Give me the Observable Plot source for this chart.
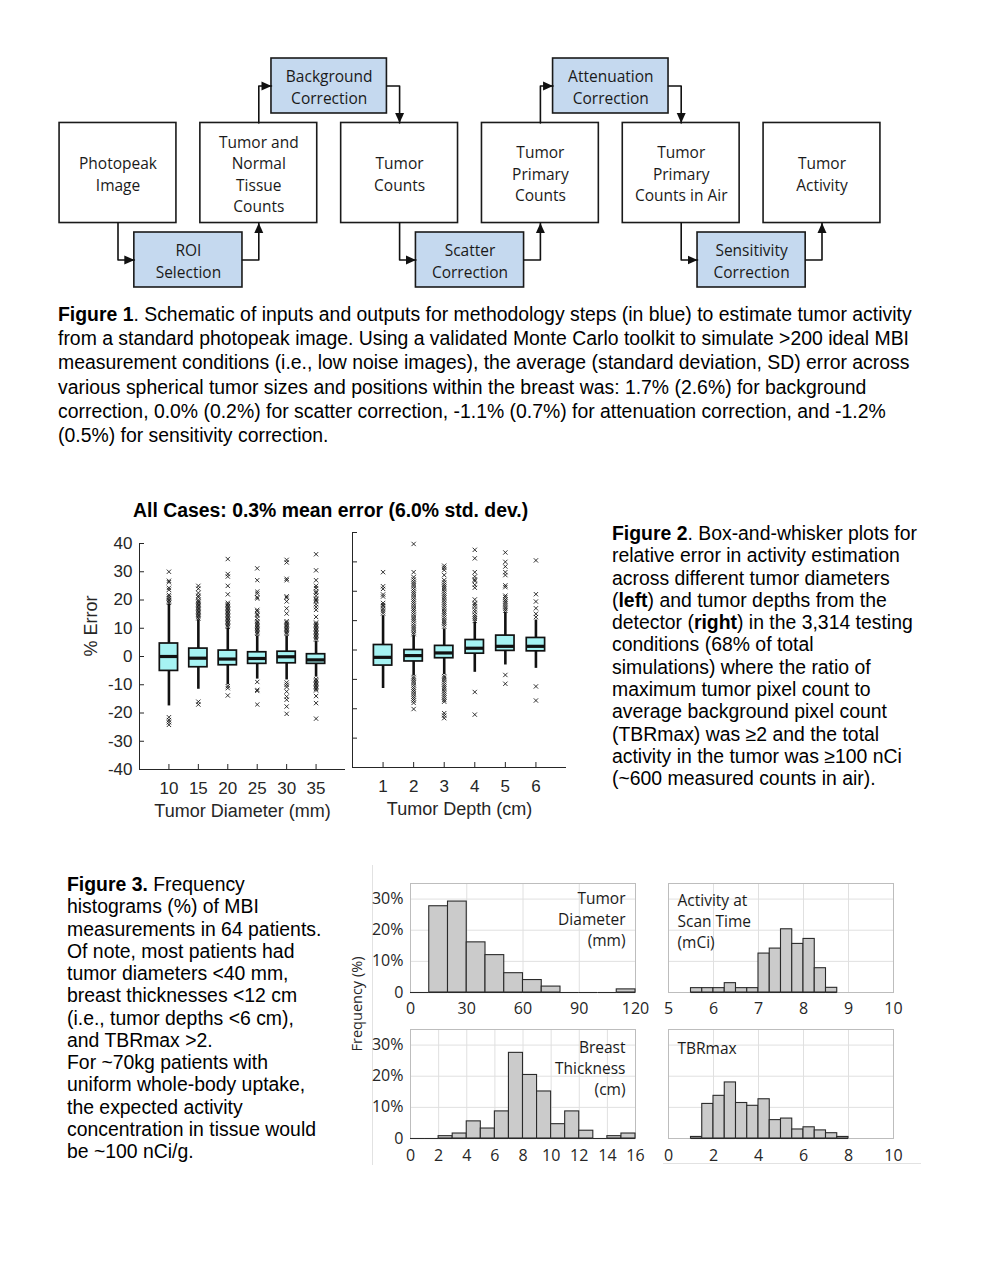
<!DOCTYPE html>
<html><head><meta charset="utf-8">
<script src="https://cdn.jsdelivr.net/npm/d3@7"></script>
<script src="https://cdn.jsdelivr.net/npm/@observablehq/plot@0.6"></script>
<style>
body{margin:0;background:#fff;}
#page{position:relative;width:989px;height:1280px;overflow:hidden;background:#fff;font-family:"Liberation Sans",Arial,sans-serif;color:#000;}
.abs{position:absolute;}
.cap{position:absolute;font-size:19.4px;white-space:nowrap;}
</style></head><body><div id="page">
<div id="flow" class="abs" style="left:0;top:0;"></div>
<div class="cap" style="left:58px;top:302px;line-height:24.2px;">
<b>Figure 1</b>. Schematic of inputs and outputs for methodology steps (in blue) to estimate tumor activity<br>
from a standard photopeak image. Using a validated Monte Carlo toolkit to simulate &gt;200 ideal MBI<br>
measurement conditions (i.e., low noise images), the average (standard deviation, SD) error across<br>
various spherical tumor sizes and positions within the breast was: 1.7% (2.6%) for background<br>
correction, 0.0% (0.2%) for scatter correction, -1.1% (0.7%) for attenuation correction, and -1.2%<br>
(0.5%) for sensitivity correction.</div>
<div class="abs" style="left:133px;top:498px;font-size:19.4px;font-weight:bold;white-space:nowrap;line-height:24px;">All Cases: 0.3% mean error (6.0% std. dev.)</div>
<div id="boxL" class="abs" style="left:60px;top:520px;"></div>
<div id="boxR" class="abs" style="left:340px;top:520px;"></div>
<div class="cap" style="left:612px;top:522px;line-height:22.3px;">
<b>Figure 2</b>. Box-and-whisker plots for<br>
relative error in activity estimation<br>
across different tumor diameters<br>
(<b>left</b>) and tumor depths from the<br>
detector (<b>right</b>) in the 3,314 testing<br>
conditions (68% of total<br>
simulations) where the ratio of<br>
maximum tumor pixel count to<br>
average background pixel count<br>
(TBRmax) was ≥2 and the total<br>
activity in the tumor was ≥100 nCi<br>
(~600 measured counts in air).</div>
<div class="cap" style="left:67px;top:873px;line-height:22.25px;">
<b>Figure 3.</b> Frequency<br>
histograms (%) of MBI<br>
measurements in 64 patients.<br>
Of note, most patients had<br>
tumor diameters &lt;40 mm,<br>
breast thicknesses &lt;12 cm<br>
(i.e., tumor depths &lt;6 cm),<br>
and TBRmax &gt;2.<br>
For ~70kg patients with<br>
uniform whole-body uptake,<br>
the expected activity<br>
concentration in tissue would<br>
be ~100 nCi/g.</div>
<div class="abs" style="left:372px;top:865px;width:0;height:300px;border-left:1px solid #e2e2e2;"></div>
<div class="abs" style="left:663px;top:1163px;width:258px;height:0;border-top:1px solid #e2e2e2;"></div>
<div id="hTL" class="abs" style="left:360px;top:870px;"></div>
<div id="hTR" class="abs" style="left:660px;top:870px;"></div>
<div id="hBL" class="abs" style="left:360px;top:1016px;"></div>
<div id="hBR" class="abs" style="left:660px;top:1016px;"></div>
<div class="abs" style="left:287px;top:994px;width:140px;height:20px;line-height:20px;text-align:center;font-family:'Open Sans';font-size:14.5px;color:#262626;transform:rotate(-90deg);white-space:nowrap;">Frequency (%)</div>
</div>
<script>
// ---------------- Figure 1 data ----------------
const outputNodes = ["Photopeak\nImage", "Tumor and\nNormal\nTissue\nCounts", "Tumor\nCounts", "Tumor\nPrimary\nCounts", "Tumor\nPrimary\nCounts in Air", "Tumor\nActivity"];
const methodNodes = ["ROI\nSelection", "Background\nCorrection", "Scatter\nCorrection", "Attenuation\nCorrection", "Sensitivity\nCorrection"];

// ---------------- Figure 2 data ----------------
const errorTicks = [-40, -30, -20, -10, 0, 10, 20, 30, 40];
const diameters = [10, 15, 20, 25, 30, 35];
const diamQ1 = [-5.1, -3.8, -3.1, -2.6, -2.4, -2.6];
const diamMedian = [0.0, -0.6, -0.9, -0.7, -0.1, -1.2];
const diamQ3 = [4.6, 2.8, 2.1, 1.5, 1.7, 0.8];
const diamLow = [-17.5, -11.6, -10.0, -8.0, -8.3, -7.3];
const diamHigh = [18.5, 13.0, 10.0, 7.3, 7.3, 5.3];
const diamOutliers = [
  [30.0, 26.8, 26.3, 24.3, 23.6, 21.8, 21.2, 20.6, 20.0, 19.5, 19.0, -21.5, -22.5, -23.3, -24.2],
  [25.0, 24.0, 22.5, 21.5, 21.0, 20.0, 19.5, 19.0, 18.5, 18.0, 17.5, 17.0, 16.5, 16.0, 15.5, 15.0, 14.5, 14.0, 13.5, -16.0, -17.0],
  [34.5, 29.2, 28.3, 25.0, 22.0, 19.0, 18.5, 18.0, 17.5, 17.0, 16.5, 16.0, 15.5, 15.0, 14.5, 14.0, 13.5, 13.0, 12.5, 12.0, 11.5, 11.0, 10.5, -10.5, -11.2, -13.8],
  [31.2, 27.0, 23.0, 22.3, 21.0, 20.5, 16.5, 16.0, 15.0, 14.5, 13.5, 12.5, 12.0, 11.5, 11.0, 10.5, 10.0, 9.5, 9.0, 8.5, 8.0, -9.0, -11.8, -12.2, -17.0],
  [34.2, 33.3, 27.5, 27.0, 21.3, 20.8, 19.5, 17.0, 15.2, 12.5, 12.0, 11.5, 11.0, 10.5, 10.0, 9.5, 9.0, 8.5, 8.0, -9.2, -10.0, -10.8, -12.4, -14.2, -15.3, -17.7, -20.3],
  [36.2, 30.5, 27.0, 25.0, 24.2, 23.0, 22.5, 21.5, 20.5, 20.0, 19.5, 18.5, 17.5, 16.5, 14.0, 12.0, 11.5, 11.0, 10.5, 10.0, 9.5, 9.0, 8.5, 8.0, 7.5, 7.0, 6.5, 6.0, -8.0, -8.5, -9.0, -9.5, -10.0, -10.5, -11.0, -11.5, -12.0, -14.0, -16.5, -22.0]
];
const depths = [1, 2, 3, 4, 5, 6];
const depthQ1 = [-5.3, -3.9, -2.8, -1.25, -0.3, -0.45];
const depthMedian = [-2.5, -1.9, -1.0, 0.6, 1.25, 1.25];
const depthQ3 = [1.7, 0.0, 1.4, 3.4, 4.9, 4.1];
const depthLow = [-13.1, -8.8, -8.4, -7.6, -5.1, -6.25];
const depthHigh = [11.7, 4.9, 7.2, 9.4, 12.8, 10.2];
const depthOutliers = [
  [26.5, 21.7, 20.8, 18.9, 18.2, 16.0, 15.3, 14.8, 14.0, 13.2, 12.5],
  [36.1, 26.5, 24.8, 24.0, 23.2, 22.5, 21.8, 21.0, 20.2, 19.5, 18.8, 18.0, 17.2, 16.5, 15.8, 15.0, 14.2, 13.5, 12.8, 12.0, 11.2, 10.5, 9.8, 9.0, 8.2, 7.5, 6.8, 6.0, 5.4,
   -9.2, -9.8, -10.5, -11.2, -12.0, -12.8, -13.5, -14.2, -15.0, -15.8, -16.5, -17.2, -18.0, -20.1],
  [28.7, 28.0, 27.2, 25.5, 23.8, 23.0, 22.2, 21.5, 20.8, 20.0, 19.2, 18.5, 17.8, 17.0, 16.2, 15.5, 14.8, 14.0, 13.2, 12.5, 11.8, 11.0, 10.2, 9.5, 8.8, 8.0,
   -8.9, -9.5, -10.2, -11.0, -11.8, -12.5, -13.2, -14.0, -14.8, -15.5, -16.2, -17.0, -17.6, -21.5, -22.3, -23.2],
  [34.1, 31.2, 26.5, 25.0, 24.0, 23.5, 22.2, 21.2, 17.2, 16.0, 15.5, 14.8, 13.8, 13.0, 12.0, 11.3, 10.6, 9.9, -14.3, -22.0],
  [33.2, 30.0, 28.4, 26.5, 25.5, 22.0, 21.4, 18.5, 18.0, 17.2, 16.6, 16.0, 15.3, 14.6, 14.0, 13.4, -8.5, -11.5],
  [30.5, 19.0, 16.5, 14.2, 12.3, 11.2, -12.4, -17.2]
];

// ---------------- Figure 3 data ----------------
const freqTicks = [0, 10, 20, 30];
const diamBinStarts = [0, 10, 20, 30, 40, 50, 60, 70, 80, 90, 100, 110];
const diamFreq = [0, 27.7, 29.2, 16.1, 12.0, 6.2, 4.0, 1.9, 0, 0, 0, 1.0];
const diamTicks = [0, 30, 60, 90, 120];
const actBinStarts = [5.5, 5.75, 6.0, 6.25, 6.5, 6.75, 7.0, 7.25, 7.5, 7.75, 8.0, 8.25, 8.5];
const actFreq = [1.4, 1.4, 1.4, 3.0, 1.4, 1.4, 12.5, 14.1, 20.3, 15.6, 17.2, 7.8, 1.5];
const actTicks = [5, 6, 7, 8, 9, 10];
const thickBinStarts = [0, 1, 2, 3, 4, 5, 6, 7, 8, 9, 10, 11, 12, 13, 14, 15];
const thickFreq = [0, 0, 0.75, 1.6, 5.5, 3.2, 8.7, 27.5, 20.4, 15.1, 4.6, 8.7, 2.5, 0, 0.75, 1.6];
const thickTicks = [0, 2, 4, 6, 8, 10, 12, 14, 16];
const tbrBinStarts = [1.0, 1.5, 2.0, 2.5, 3.0, 3.5, 4.0, 4.5, 5.0, 5.5, 6.0, 6.5, 7.0, 7.5];
const tbrFreq = [0.5, 11.1, 13.7, 18.0, 11.4, 10.5, 12.6, 5.9, 6.4, 2.9, 3.6, 2.6, 1.7, 0.5];
const tbrTicks = [0, 2, 4, 6, 8, 10];

// ---------------- Figure 1 ----------------
function arrowHead(color, context) {
  const doc = (context && context.document) || document;
  const ns = "http://www.w3.org/2000/svg";
  const m = doc.createElementNS(ns, "marker");
  m.setAttribute("viewBox", "-10 -5 10 10");
  m.setAttribute("markerWidth", "10");
  m.setAttribute("markerHeight", "10");
  m.setAttribute("markerUnits", "userSpaceOnUse");
  m.setAttribute("orient", "auto");
  const p = doc.createElementNS(ns, "path");
  p.setAttribute("d", "M-10,-4.5L0,0L-10,4.5Z");
  p.setAttribute("fill", color);
  p.setAttribute("stroke", "none");
  m.appendChild(p);
  return m;
}
{
  const hwOut = 0.415, hhOut = 0.575, hhM = 0.316;
  const outs = outputNodes.map((label, i) => ({label, x: i, y: 1}));
  const meths = methodNodes.map((label, i) => ({label, i, x: i + 0.5, y: i % 2 ? 0 : 2, hw: i % 2 ? 0.41 : 0.384}));
  const conns = [];
  meths.forEach(m => {
    const dir = m.y > 1 ? 1 : -1;
    const edge = 1 + dir * hhOut;
    const a = "in" + m.i, b = "out" + m.i;
    conns.push({id: a, x: m.i, y: edge}, {id: a, x: m.i, y: m.y}, {id: a, x: m.x - m.hw, y: m.y});
    conns.push({id: b, x: m.x + m.hw, y: m.y}, {id: b, x: m.i + 1, y: m.y}, {id: b, x: m.i + 1, y: edge});
  });
  const txt = {fontSize: 15.5, lineHeight: 1.38, fontFamily: "Open Sans", fill: "#1a1a1a"};
  const fig = Plot.plot({
    width: 989, height: 300, margin: 0,
    x: {domain: [0, 5], range: [117.5, 821.5], axis: null},
    y: {domain: [0, 2], range: [85.5, 259.5], axis: null},
    marks: [
      Plot.rect(outs, {x1: d => d.x - hwOut, x2: d => d.x + hwOut, y1: d => d.y - hhOut, y2: d => d.y + hhOut, fill: "white", stroke: "#1a1a1a", strokeWidth: 1.6}),
      Plot.rect(meths, {x1: d => d.x - d.hw, x2: d => d.x + d.hw, y1: d => d.y - hhM, y2: d => d.y + hhM, fill: "#c5d9ef", stroke: "#1a1a1a", strokeWidth: 1.6}),
      Plot.text(outs, {x: "x", y: "y", text: "label", ...txt}),
      Plot.text(meths, {x: "x", y: "y", text: "label", ...txt}),
      Plot.line(conns, {x: "x", y: "y", z: "id", stroke: "#111", strokeWidth: 1.6, markerEnd: arrowHead})
    ]
  });
  document.getElementById("flow").append(fig);
}

// ---------------- Figure 2 ----------------
function boxPanel(cats, q1, med, q3, lo, hi, outl, o) {
  const rows = cats.map((c, i) => ({x: c, q1: q1[i], med: med[i], q3: q3[i], lo: lo[i], hi: hi[i]}));
  const pts = cats.flatMap((c, i) => outl[i].map(v => ({x: c, y: v})));
  const w = o.halfWidth;
  const ink = "#111";
  return Plot.plot({
    width: o.width, height: o.height,
    marginLeft: o.ml, marginRight: o.mr, marginTop: o.mt, marginBottom: o.mb,
    style: {fontFamily: "Liberation Sans, Arial, sans-serif", fontSize: "17px", color: "#262626", background: "transparent"},
    x: {domain: o.xDomain},
    y: {domain: [-40, 40]},
    marks: [
      Plot.ruleX([o.xDomain[0]], {stroke: "#262626", strokeWidth: 1}),
      Plot.ruleY([-40], {stroke: "#262626", strokeWidth: 1}),
      Plot.axisY({ticks: errorTicks, label: null, tickSize: -5, tickPadding: 12, tickFormat: o.yLabels ? (d => d) : (() => ""), stroke: "#262626"}),
      Plot.axisX({ticks: cats, label: null, tickSize: -5, tickPadding: 17, tickFormat: d => d, stroke: "#262626"}),
      Plot.ruleX(rows, {x: "x", y1: "q3", y2: "hi", stroke: ink, strokeWidth: 2.6}),
      Plot.ruleX(rows, {x: "x", y1: "lo", y2: "q1", stroke: ink, strokeWidth: 2.6}),
      Plot.rect(rows, {x1: d => d.x - w, x2: d => d.x + w, y1: "q1", y2: "q3", fill: "#a6f3f3", stroke: ink, strokeWidth: 1.7}),
      Plot.ruleY(rows, {y: "med", x1: d => d.x - w, x2: d => d.x + w, stroke: ink, strokeWidth: 3.2}),
      Plot.dot(pts, {x: "x", y: "y", symbol: "times", r: 2.1, stroke: ink, strokeWidth: 0.85}),
      Plot.text([o.xLabel], {frameAnchor: "bottom", dy: 47, text: d => d, fontSize: 18, fill: "#262626"}),
      ...(o.yLabel ? [Plot.text([o.yLabel], {frameAnchor: "left", dx: -48, rotate: -90, text: d => d, fontSize: 18, fill: "#262626"})] : [])
    ]
  });
}
document.getElementById("boxL").append(boxPanel(diameters, diamQ1, diamMedian, diamQ3, diamLow, diamHigh, diamOutliers,
  {width: 300, height: 320, ml: 79, mr: 15, mt: 23, mb: 71, xDomain: [5, 40], halfWidth: 1.55, yLabels: true, xLabel: "Tumor Diameter (mm)", yLabel: "% Error"}));
document.getElementById("boxR").append(boxPanel(depths, depthQ1, depthMedian, depthQ3, depthLow, depthHigh, depthOutliers,
  {width: 240, height: 320, ml: 12, mr: 14, mt: 12, mb: 73, xDomain: [0, 7], halfWidth: 0.3, yLabels: false, xLabel: "Tumor Depth (cm)"}));

// ---------------- Figure 3 ----------------
function histPanel(starts, freq, bw, o) {
  const data = starts.map((s, i) => ({a: s, b: s + bw, f: freq[i]}));
  const grid = o.ticks.slice(1, -1);
  const txt = {fontFamily: "Open Sans", fontSize: 15.5, lineHeight: 1.355, fill: "#1a1a1a", text: d => d};
  return Plot.plot({
    width: o.width, height: 150,
    marginLeft: o.ml, marginRight: o.mr, marginTop: 13, marginBottom: 28,
    style: {fontFamily: "Open Sans, sans-serif", fontSize: "16px", color: "#262626", background: "transparent", overflow: "visible"},
    x: {domain: o.xDomain},
    y: {domain: [0, 35], axis: o.yLabels ? undefined : null},
    marks: [
      Plot.ruleX(grid, {stroke: "#e0e0e0"}),
      Plot.ruleY([10, 20, 30], {stroke: "#e0e0e0"}),
      Plot.frame({stroke: "#bdbdbd"}),
      Plot.ruleY(data, {y: 0, x1: "a", x2: "b", stroke: "#2a2a2a", strokeWidth: 1.1}),
      Plot.rect(data.filter(d => d.f > 0), {x1: "a", x2: "b", y1: 0, y2: "f", fill: "#cbcbcb", stroke: "#2a2a2a", strokeWidth: 1.1}),
      ...(o.yLabels ? [Plot.axisY({ticks: freqTicks, label: null, tickSize: 0, tickPadding: 7, tickFormat: d => d === 0 ? "0" : d + "%"})] : []),
      Plot.axisX({ticks: o.ticks, label: null, tickSize: 0, tickPadding: o.xPad, tickFormat: d => d}),
      Plot.text([o.label], {frameAnchor: o.right ? "top-right" : "top-left", textAnchor: o.right ? "end" : "start", lineAnchor: "top", dx: o.right ? -10 : 9, dy: o.labelDy, ...txt})
    ]
  });
}
document.getElementById("hTL").append(histPanel(diamBinStarts, diamFreq, 10,
  {width: 285, ml: 50, mr: 10, xDomain: [0, 120], ticks: diamTicks, yLabels: true, xPad: 10.5, label: "Tumor\nDiameter\n(mm)", right: true, labelDy: 6}));
document.getElementById("hTR").append(histPanel(actBinStarts, actFreq, 0.25,
  {width: 245, ml: 8, mr: 12, xDomain: [5, 10], ticks: actTicks, yLabels: false, xPad: 10.5, label: "Activity at\nScan Time\n(mCi)", right: false, labelDy: 8}));
document.getElementById("hBL").append(histPanel(thickBinStarts, thickFreq, 1,
  {width: 285, ml: 50, mr: 10, xDomain: [0, 16], ticks: thickTicks, yLabels: true, xPad: 11, label: "Breast\nThickness\n(cm)", right: true, labelDy: 9}));
document.getElementById("hBR").append(histPanel(tbrBinStarts, tbrFreq, 0.5,
  {width: 245, ml: 8, mr: 12, xDomain: [0, 10], ticks: tbrTicks, yLabels: false, xPad: 11, label: "TBRmax", right: false, labelDy: 10}));
</script>
</body></html>
